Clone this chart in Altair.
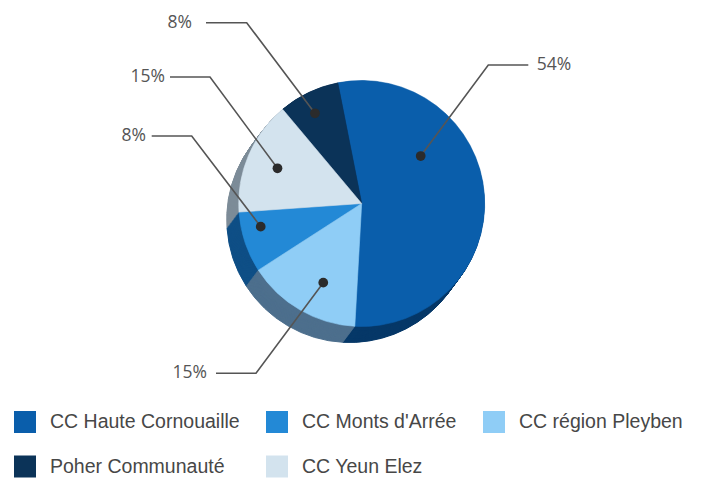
import math
import altair as alt
import pandas as pd

# ---------------- data ----------------
categories = ["CC Haute Cornouaille", "CC Monts d'Arrée", "CC région Pleyben",
              "Poher Communauté", "CC Yeun Elez"]
values = [54, 8, 15, 8, 15]
labels = ["54%", "8%", "15%", "8%", "15%"]
slice_order = [1, 3, 2, 5, 4]          # clockwise order on the pie

# ---------------- styles / layout ----------------
top_colors = ["#0a5eab", "#2389d6", "#8fcdf6", "#0b3358", "#d3e3ee"]
side_colors = ["#063868", "#0f4f86", "#4d6f8d", "#061f38", "#7d8c98"]

W, H = 689, 470
CX, CY = 353.7, 195.5
R = 123
DX, DY = -12.0, 16.0        # depth of the 3D side
STEPS = 22
START = 2 * math.pi - math.radians(11.2)

dot_angle = [51.2, 257.1, 205.9, 332.6, 292.7]
dot_radius = [75.7, 103.6, 88.0, 101.6, 91.3]
elbow_x = [480.3, 183.7, 248.0, 238.7, 202.0]
elbow_y = [57.0, 128.0, 365.3, 14.7, 69.0]
end_x = [520.3, 143.7, 208.0, 198.0, 162.0]
label_x = [528.7, 138.0, 199.0, 184.0, 157.0]
label_align = ["left", "right", "right", "right", "right"]

df = pd.DataFrame({
    "cat": categories, "value": values, "label": labels,
    "order": slice_order, "side": side_colors, "tc": top_colors,
})

theta = alt.Theta("value:Q", stack=True,
                  scale=alt.Scale(range=[START, START + 2 * math.pi]))
order = alt.Order("order:Q")

layers = []
for i in range(STEPS, 0, -1):
    t = i / STEPS
    layers.append(
        alt.Chart(df).mark_arc(outerRadius=R).encode(
            theta=theta, order=order,
            fill=alt.Fill("side:N", scale=None, legend=None),
            stroke=alt.Stroke("side:N", scale=None, legend=None),
            x=alt.value(CX + DX * t), y=alt.value(CY + DY * t),
        )
    )

top = alt.Chart(df).mark_arc(outerRadius=R, strokeWidth=0.6).encode(
    theta=theta, order=order,
    color=alt.Color(
        "cat:N",
        scale=alt.Scale(domain=categories, range=top_colors),
        legend=alt.Legend(
            orient="none", legendX=6, legendY=403, direction="horizontal",
            columns=3, symbolType="square", symbolSize=484, symbolStrokeWidth=0,
            labelFontSize=19.5, labelFont="Liberation Sans", labelColor="#474747",
            columnPadding=26, rowPadding=22.5, labelOffset=14, title=None,
            padding=0, labelLimit=400, symbolOpacity=1,
        ),
    ),
    stroke=alt.Stroke("tc:N", scale=None, legend=None),
    x=alt.value(CX), y=alt.value(CY),
)

# annotation geometry (leader lines)
rows = []
for k, c in enumerate(categories):
    a = math.radians(dot_angle[k])
    dx = CX + dot_radius[k] * math.sin(a)
    dy = CY - dot_radius[k] * math.cos(a)
    rows.append({"cat": c, "i": 0, "px": dx, "py": dy})
    rows.append({"cat": c, "i": 1, "px": elbow_x[k], "py": elbow_y[k]})
    rows.append({"cat": c, "i": 2, "px": end_x[k], "py": elbow_y[k]})
lines_df = pd.DataFrame(rows)
dots_df = lines_df[lines_df["i"] == 0]

xs = alt.X("px:Q", scale=alt.Scale(domain=[0, W], range=[0, W]), axis=None)
ys = alt.Y("py:Q", scale=alt.Scale(domain=[0, H], range=[0, H]), axis=None)

lines = alt.Chart(lines_df).mark_line(color="#555555", strokeWidth=1.6).encode(
    x=xs, y=ys, detail="cat:N", order="i:Q")
dots = alt.Chart(dots_df).mark_circle(color="#2b2b2b", opacity=1, size=95).encode(
    x=xs, y=ys)

lab_df = pd.DataFrame({"label": labels, "px": label_x, "py": elbow_y,
                       "align": label_align})
texts = []
for al in ["left", "right"]:
    texts.append(
        alt.Chart(lab_df).transform_filter(alt.datum.align == al).mark_text(
            align=al, baseline="middle", font="Open Sans", fontSize=17.5,
            color="#555555").encode(x=xs, y=ys, text="label:N")
    )

chart = alt.layer(*layers, top, lines, dots, *texts).properties(
    width=W, height=H, autosize=alt.AutoSizeParams(type="none"), padding=0,
).configure_view(stroke=None)

chart.save("out.html", embed_options={"renderer": "svg", "actions": False})
